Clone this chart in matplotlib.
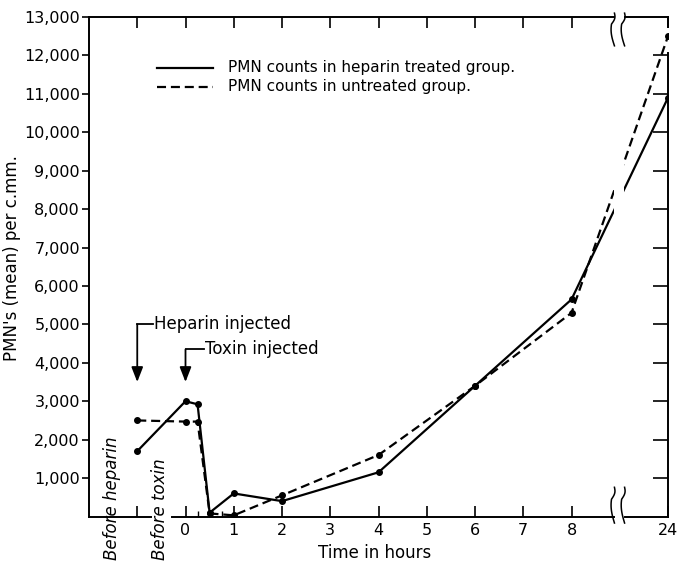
import matplotlib
matplotlib.use('Agg')
import matplotlib.pyplot as plt
import matplotlib.transforms as mtransforms
import numpy as np

plt.rcParams['font.family'] = ['DejaVu Sans']
plt.rcParams['lines.scale_dashes'] = False

# Plotted x positions: -1 = "Before heparin", 0 = "Before toxin"/toxin injected,
# 10 = 24 hours (placed after the axis break)
heparin_x = [-1, 0, 0.25, 0.5, 1, 2, 4, 6, 8, 10]
heparin_pmn = [1700, 3000, 2920, 100, 600, 400, 1150, 3400, 5650, 10900]
untreated_x = [-1, 0, 0.25, 0.5, 1, 2, 4, 6, 8, 10]
untreated_pmn = [2500, 2470, 2470, 80, 30, 550, 1600, 3400, 5300, 12500]

xtick_pos = [0, 1, 2, 3, 4, 5, 6, 7, 8, 10]
xtick_labels = ['0', '1', '2', '3', '4', '5', '6', '7', '8', '24']
ytick_vals = list(range(1000, 14000, 1000))
ytick_labels = [f'{v:,}' for v in ytick_vals]

legend_labels = ['PMN counts in heparin treated group.',
                 'PMN counts in untreated group.']

fig = plt.figure(figsize=(6.8, 5.62), dpi=100)
ax = fig.add_axes([89/680, 1-516.5/562, 579/680, 499.5/562])
ax.set_xlim(-2, 10)
ax.set_ylim(0, 13000)

lw = 1.6
ax.plot(heparin_x, heparin_pmn, color='black', lw=lw, marker='o', ms=4, zorder=3)
ax.plot(untreated_x, untreated_pmn, color='black', lw=lw, ls=(0, (6.5, 3.5)),
        marker='o', ms=4, zorder=3)

# gap in the lines at the axis break
ax.add_patch(plt.Rectangle((8.89, 7800), 0.19, 1500, facecolor='white',
                           edgecolor='none', zorder=4))

# spines drawn by hand (with breaks)
for s in ax.spines.values():
    s.set_visible(False)
bx0, bx1 = 8.89, 9.10
kw = dict(color='black', lw=1.4, clip_on=False, zorder=5)
ax.plot([-2, bx0], [13000, 13000], **kw)
ax.plot([bx1, 10], [13000, 13000], **kw)
ax.plot([-2, -0.72], [0, 0], **kw)
ax.plot([-0.27, bx0], [0, 0], **kw)
ax.plot([bx1, 10], [0, 0], **kw)
ax.plot([-2, -2], [0, 13000], **kw)
ax.plot([10, 10], [0, 12070], **kw)
ax.plot([10, 10], [12750, 13000], **kw)

# break marks
def brk(xc, y0, y1):
    t = np.linspace(0, 1, 40)
    y = y0 + (y1 - y0) * t
    x = xc - 0.07 * np.sin(np.pi * t) + 0.04 * np.sin(3 * np.pi * t) * (t < 0.35)
    ax.plot(x, y, color='black', lw=1.1, clip_on=False, zorder=5)

for xc in (bx0, bx1):
    brk(xc, 13100, 12250)
    brk(xc, 760, -170)

# ticks
ax.set_xticks([-1] + xtick_pos)
ax.set_xticklabels([''] + xtick_labels)
ax.set_xticks([0.25, 0.75], minor=True)
ax.tick_params(axis='x', which='major', direction='in', length=8, width=1.2,
               top=True, bottom=True, labelsize=11.5, pad=5)
ax.tick_params(axis='x', which='minor', direction='in', length=4, width=1.0,
               top=False, bottom=True)
ax.set_yticks(ytick_vals)
ax.set_yticklabels(ytick_labels)
ax.tick_params(axis='y', direction='out', length=5, width=1.2, labelsize=11.5, pad=1.5)

tw = ax.twinx()
tw.set_ylim(0, 13000)
tw.set_yticks(ytick_vals[:-1])
tw.tick_params(axis='y', direction='in', length=11, width=1.2, labelright=False)
for s in tw.spines.values():
    s.set_visible(False)

ax.set_xlabel('Time in hours', fontsize=12)
ax.xaxis.set_label_coords(0.494, -0.056)
ax.set_ylabel("PMN's (mean) per c.mm.", fontsize=12)
ax.yaxis.set_label_coords(-0.117, 0.5175)

# legend drawn by hand
ax.plot([0.117, 0.214], [0.898, 0.898], transform=ax.transAxes, color='black', lw=lw)
ax.plot([0.117, 0.214], [0.860, 0.860], transform=ax.transAxes, color='black', lw=lw,
        ls=(0, (6.5, 3.5)))
ax.text(0.240, 0.898, legend_labels[0], transform=ax.transAxes, va='center', fontsize=11)
ax.text(0.240, 0.860, legend_labels[1], transform=ax.transAxes, va='center', fontsize=11)

# injection annotations
for x0, ytop, xend, label in [(-1, 5000, -0.68, 'Heparin injected'),
                              (0, 4350, 0.38, 'Toxin injected')]:
    ax.annotate('', xy=(x0, 3500), xytext=(x0, ytop),
                arrowprops=dict(arrowstyle='-|>,head_length=0.9,head_width=0.35',
                                color='black', lw=1.3, shrinkA=0, shrinkB=0))
    ax.plot([x0, xend], [ytop, ytop], color='black', lw=1.3)
    ax.text(xend + 0.03, ytop, label, va='center', ha='left', fontsize=12)

# rotated pre-treatment labels
trans = mtransforms.blended_transform_factory(ax.transData, ax.transAxes)
ax.text(-1.53, -0.087, 'Before heparin', rotation=90, style='italic', fontsize=12,
        ha='center', va='bottom', transform=trans)
ax.text(-0.52, -0.087, 'Before toxin', rotation=90, style='italic', fontsize=12,
        ha='center', va='bottom', transform=trans)

fig.savefig('out.png', dpi=100)
